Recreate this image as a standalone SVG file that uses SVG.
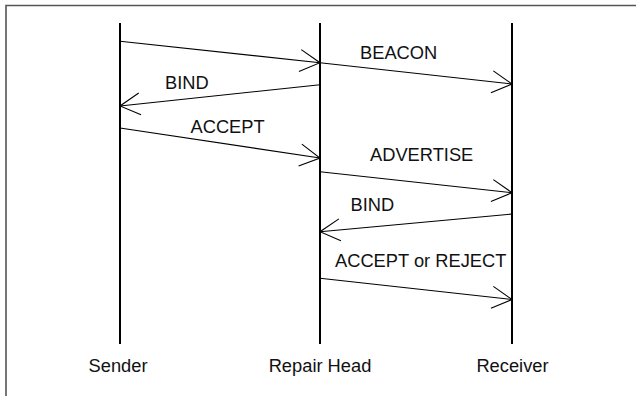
<svg xmlns="http://www.w3.org/2000/svg" width="636" height="396" viewBox="0 0 636 396">
  <style>
    .frame { fill: none; stroke: #555; stroke-width: 1.6; }
    .life { stroke: #000; stroke-width: 2; }
    .msg { stroke: #000; stroke-width: 1.1; fill: none; marker-end: url(#open); }
    text { font-family: "Liberation Sans", Arial, sans-serif; font-size: 18.3px; fill: #111; }
    .name { text-anchor: middle; }
  </style>
  <defs>
    <marker id="open" markerUnits="userSpaceOnUse" viewBox="-25 -15 30 30" refX="0" refY="0" markerWidth="30" markerHeight="30" orient="auto" overflow="visible">
      <path d="M-20,-11 L0,0 L-20,11" fill="none" stroke="#000" stroke-width="1.1"/>
    </marker>
  </defs>
  <rect width="636" height="396" fill="#fff"/>
  <!-- outer frame: only the top and left edges fall inside the canvas -->
  <path class="frame" d="M6,396 V5.5 H636"/>

  <g id="sender">
    <line class="life" x1="120" y1="23" x2="120" y2="344"/>
    <text class="name" x="118" y="371.5">Sender</text>
  </g>
  <g id="repair-head">
    <line class="life" x1="320" y1="23" x2="320" y2="344"/>
    <text class="name" x="320" y="371.5">Repair Head</text>
  </g>
  <g id="receiver">
    <line class="life" x1="512" y1="23" x2="512" y2="344"/>
    <text class="name" x="512.5" y="371.5">Receiver</text>
  </g>

  <g id="messages">
    <line class="msg" x1="120" y1="41.3" x2="320" y2="62.7"/>
    <line class="msg" x1="320" y1="62.7" x2="512" y2="84"/>
    <text x="360" y="59">BEACON</text>

    <line class="msg" x1="320" y1="84.7" x2="120" y2="106"/>
    <text x="165" y="89">BIND</text>

    <line class="msg" x1="120" y1="128" x2="320" y2="158"/>
    <text x="190.5" y="133">ACCEPT</text>

    <line class="msg" x1="320" y1="171.7" x2="512" y2="192.7"/>
    <text x="370" y="160.5">ADVERTISE</text>

    <line class="msg" x1="512" y1="214" x2="320" y2="231.7"/>
    <text x="350.5" y="210.5">BIND</text>

    <line class="msg" x1="320" y1="278.3" x2="512" y2="299.5"/>
    <text x="335" y="266.5">ACCEPT or REJECT</text>
  </g>
</svg>
